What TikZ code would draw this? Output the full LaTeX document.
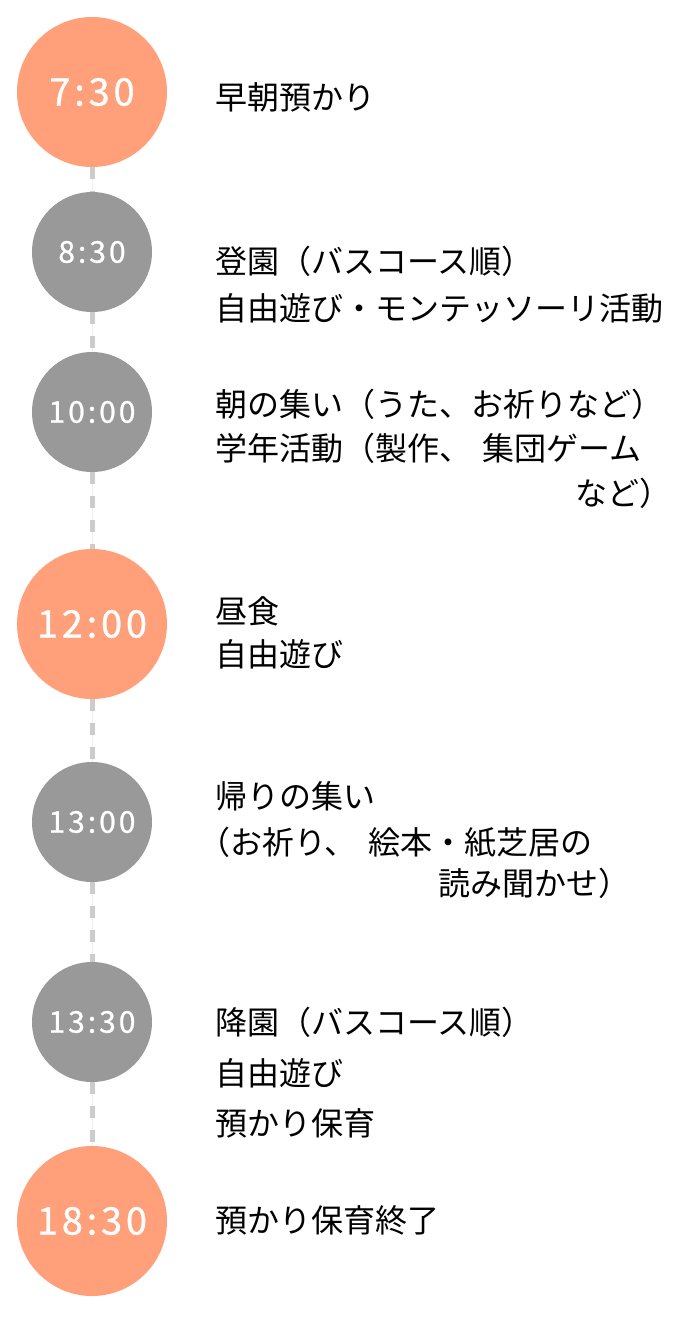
\documentclass[tikz,border=0pt]{standalone}
\usepackage{fontspec}
\newfontfamily\jp{Noto Sans CJK JP}
\newfontfamily\tm[LetterSpace=10,FakeBold=0.8]{Noto Sans CJK JP}
\definecolor{orng}{HTML}{FFA07A}
\definecolor{gry}{HTML}{999999}
\definecolor{dsh}{HTML}{CCCCCC}
\definecolor{thinc}{HTML}{EEEEEE}
\newcommand{\gap}{\hspace{0.35em}}
\begin{document}
\begin{tikzpicture}[x=1pt,y=-1pt,
  big/.style={circle, fill=orng, minimum size=150pt, inner sep=0pt, text=white,
    font=\tm\fontsize{38}{38}\selectfont},
  small/.style={circle, fill=gry, minimum size=120pt, inner sep=0pt, text=white,
    font=\tm\fontsize{30}{30}\selectfont},
  txt/.style={anchor=base west, inner sep=0pt, font=\jp\fontsize{32}{32}\selectfont},
  link/.style={draw=dsh, line width=5pt, dash pattern=on 12pt off 12pt,
    preaction={draw=thinc, line width=1pt, solid}}]
\useasboundingbox[fill=white] (0,0) rectangle (700,1334);

\node[big]   (t1) at (92,92)   {7:30};
\node[small] (t2) at (92,252)  {8:30};
\node[small] (t3) at (92,412)  {10:00};
\node[big]   (t4) at (92,624)  {12:00};
\node[small] (t5) at (92,822)  {13:00};
\node[small] (t6) at (92,1022) {13:30};
\node[big]   (t7) at (92,1221) {18:30};

\draw[link] (t1.south) -- (t2.north);
\draw[link] (t2.south) -- (t3.north);
\draw[link] (t3.south) -- (t4.north);
\draw[link] (t4.south) -- (t5.north);
\draw[link] (t5.south) -- (t6.north);
\draw[link] (t6.south) -- (t7.north);

\node[txt] (a1) at (215,109)   {早朝預かり};
\node[txt] (b1) at (215,273.5) {登園（バスコース順）};
\node[txt] (b2) at (215,320.5) {自由遊び・モンテッソーリ活動};
\node[txt] (c1) at (215,416.5) {朝の集い（うた、お祈りなど）};
\node[txt] (c2) at (215,460.5) {学年活動（製作、\gap 集団ゲーム};
\node[txt] (c3) at (575,505.5) {など）};
\node[txt] (d1) at (215,623.5) {昼食};
\node[txt] (d2) at (215,666.5) {自由遊び};
\node[txt] (e1) at (215,808.5) {帰りの集い};
\node[txt] (e2) at (198,854.5) {（お祈り、\gap 絵本・紙芝居の};
\node[txt] (e3) at (438,895.5) {読み聞かせ）};
\node[txt] (f1) at (215,1034.5) {降園（バスコース順）};
\node[txt] (f2) at (215,1085.5) {自由遊び};
\node[txt] (f3) at (215,1135.5) {預かり保育};
\node[txt] (g1) at (215,1232.5) {預かり保育終了};
\end{tikzpicture}
\end{document}
